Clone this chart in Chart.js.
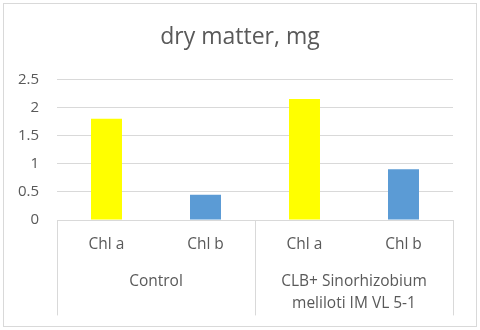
<!DOCTYPE html>
<html>
<head>
<meta charset="utf-8">
<script src="https://cdn.jsdelivr.net/npm/chart.js@4.4.1/dist/chart.umd.min.js"></script>
<style>
  html, body { margin: 0; padding: 0; background: #ffffff; }
  #wrap { position: relative; width: 480px; height: 330px; }
</style>
</head>
<body>
<div id="wrap"><canvas id="c" width="480" height="330"></canvas></div>
<script>
// ---- data ----
const chartTitle = 'dry matter, mg';
const groups = ['Control', ['CLB+ Sinorhizobium', 'meliloti IM VL 5-1']];
const pigments = ['Chl a', 'Chl b', 'Chl a', 'Chl b'];
const values = [1.8, 0.45, 2.15, 0.9];
const yMin = 0;
const yMax = 2.5;
const yStep = 0.5;

// ---- styles ----
const TEXT = '#595959';
const GRID = '#d9d9d9';
const FONT = '"Open Sans", Lato, "Liberation Sans", sans-serif';
const colorFor = p => (p === 'Chl a' ? '#ffff00' : '#5b9bd5');

const frame = {
  id: 'frame',
  beforeDraw(chart) {
    const ctx = chart.ctx;
    ctx.save();
    ctx.fillStyle = '#ffffff';
    ctx.fillRect(0, 0, chart.width, chart.height);
    ctx.strokeStyle = GRID;
    ctx.lineWidth = 1;
    ctx.strokeRect(3.5, 3.5, chart.width - 7, chart.height - 7);
    ctx.restore();
  }
};

const separators = {
  id: 'separators',
  afterDraw(chart) {
    const x2 = chart.scales.x2;
    const area = chart.chartArea;
    const xs = [area.left];
    for (let i = 0; i < groups.length - 1; i++) {
      xs.push((x2.getPixelForValue(i) + x2.getPixelForValue(i + 1)) / 2);
    }
    xs.push(area.right);
    const ctx = chart.ctx;
    ctx.save();
    ctx.strokeStyle = GRID;
    ctx.lineWidth = 1;
    xs.forEach(x => {
      const px = Math.round(x) + 0.5;
      ctx.beginPath();
      ctx.moveTo(px, area.bottom);
      ctx.lineTo(px, x2.bottom);
      ctx.stroke();
    });
    ctx.restore();
  }
};

new Chart(document.getElementById('c'), {
  type: 'bar',
  data: {
    labels: pigments,
    datasets: [{
      data: values,
      backgroundColor: pigments.map(colorFor),
      borderWidth: 0,
      categoryPercentage: 1,
      barPercentage: 0.313
    }]
  },
  options: {
    responsive: false,
    animation: false,
    devicePixelRatio: 1,
    layout: { padding: { left: 0, right: 0, top: 3, bottom: 14.6 } },
    plugins: {
      legend: { display: false },
      tooltip: { enabled: false },
      title: {
        display: true,
        text: chartTitle,
        color: TEXT,
        font: { family: FONT, size: 23, weight: 'normal', lineHeight: 1.2 },
        padding: { top: 20.7, bottom: 28 }
      }
    },
    scales: {
      x: {
        type: 'category',
        position: 'bottom',
        grid: { display: false, drawTicks: false },
        border: { display: true, color: GRID, width: 1 },
        ticks: {
          color: TEXT,
          font: { family: FONT, size: 15.5, lineHeight: 1.2 },
          padding: 15.7,
          maxRotation: 0,
          autoSkip: false
        }
      },
      x2: {
        type: 'category',
        position: 'bottom',
        labels: groups,
        offset: true,
        grid: { display: false, drawTicks: false },
        border: { display: false },
        ticks: {
          color: TEXT,
          font: { family: FONT, size: 15.5, lineHeight: 1.4 },
          padding: 1,
          maxRotation: 0,
          autoSkip: false
        }
      },
      y: {
        min: yMin,
        max: yMax,
        grid: { color: GRID, drawTicks: false },
        border: { display: false },
        ticks: {
          stepSize: yStep,
          color: TEXT,
          font: { family: FONT, size: 15 },
          padding: 18,
          callback: v => String(v)
        },
        afterFit(scale) { scale.width = 57; }
      },
      yRight: {
        type: 'linear',
        position: 'right',
        display: true,
        grid: { display: false, drawTicks: false },
        border: { display: false },
        ticks: { display: false },
        afterFit(scale) { scale.width = 27; }
      }
    }
  },
  plugins: [frame, separators]
});
</script>
</body>
</html>
